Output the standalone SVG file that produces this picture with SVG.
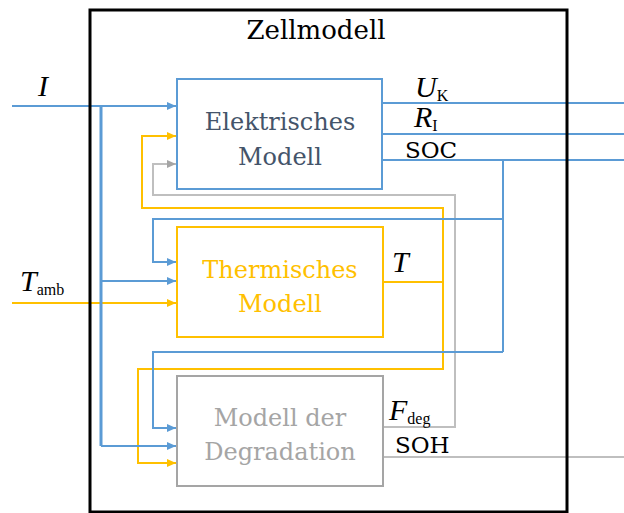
<svg xmlns="http://www.w3.org/2000/svg" width="624" height="513" viewBox="0 0 624 513">
<style>
.b{stroke:#5B9BD5;fill:none;stroke-width:2}
.y{stroke:#FFC000;fill:none;stroke-width:2}
.g{stroke:#BFBFBF;fill:none;stroke-width:2}
.lbl{font-family:"DejaVu Serif","Liberation Serif",serif;font-size:24px;text-anchor:middle}
.m{font-family:"Liberation Serif",serif;fill:#000}
.mi{font-style:italic;font-size:30px}
.sub{font-size:16px}
.t{font-family:"DejaVu Serif","Liberation Serif",serif;font-size:23px;fill:#000}
</style>
<defs>
<marker id="ab" markerUnits="userSpaceOnUse" markerWidth="9" markerHeight="8" refX="9" refY="4" orient="auto"><path d="M0,0 L9,4 L0,8 z" fill="#5B9BD5"/></marker>
<marker id="ay" markerUnits="userSpaceOnUse" markerWidth="9" markerHeight="8" refX="9" refY="4" orient="auto"><path d="M0,0 L9,4 L0,8 z" fill="#FFC000"/></marker>
<marker id="ag" markerUnits="userSpaceOnUse" markerWidth="9" markerHeight="8" refX="9" refY="4" orient="auto"><path d="M0,0 L9,4 L0,8 z" fill="#A5A5A5"/></marker>
</defs>
<rect width="624" height="513" fill="#fff"/>
<g id="connectors">
<path class="g" d="M383,427 H455 V195 H153 V164 H176" marker-end="url(#ag)"/>
<path class="g" d="M383,457 H624"/>
<path class="y" d="M12,303 H176" marker-end="url(#ay)"/>
<path class="y" d="M383,282 H443"/>
<path class="y" d="M443,282 V208 H142 V136 H176" marker-end="url(#ay)"/>
<path class="y" d="M443,282 V369 H138 V463 H176" marker-end="url(#ay)"/>
<path class="b" d="M12,106 H176" marker-end="url(#ab)"/>
<path class="b" d="M101,106 V446" style="stroke-width:3"/>
<path class="b" d="M101,281 H176" marker-end="url(#ab)"/>
<path class="b" d="M101,446 H176" marker-end="url(#ab)"/>
<path class="b" d="M382,103 H624"/>
<path class="b" d="M382,134 H624"/>
<path class="b" d="M382,160 H624"/>
<path class="b" d="M503,160 V352"/>
<path class="b" d="M503,219 H153 V262 H176" marker-end="url(#ab)"/>
<path class="b" d="M503,352 H153 V428 H176" marker-end="url(#ab)"/>
</g>
<g id="zellmodell">
<rect x="90" y="10" width="477" height="502" fill="none" stroke="#000" stroke-width="3"/>
<text x="316" y="39" class="lbl" style="fill:#000;font-size:26px">Zellmodell</text>
</g>
<g id="elektrisches">
<rect x="177" y="79" width="205" height="110" fill="none" stroke="#5B9BD5" stroke-width="2"/>
<text x="280" y="130" class="lbl" fill="#44546A">Elektrisches</text>
<text x="280" y="165" class="lbl" fill="#44546A">Modell</text>
</g>
<g id="thermisches">
<rect x="177" y="227" width="206" height="110" fill="none" stroke="#FFC000" stroke-width="2"/>
<text x="280" y="278" class="lbl" fill="#FFC000">Thermisches</text>
<text x="280" y="312" class="lbl" fill="#FFC000">Modell</text>
</g>
<g id="degradation">
<rect x="177" y="376" width="206" height="110" fill="none" stroke="#A5A5A5" stroke-width="2"/>
<text x="280" y="426" class="lbl" fill="#A5A5A5">Modell der</text>
<text x="280" y="460" class="lbl" fill="#A5A5A5">Degradation</text>
</g>
<g id="labels">
<text x="38" y="96" class="m mi">I</text>
<text x="20" y="291" class="m"><tspan class="mi">T</tspan><tspan class="sub" dy="4">amb</tspan></text>
<text x="415" y="97" class="m"><tspan class="mi">U</tspan><tspan class="sub" dy="4">K</tspan></text>
<text x="414" y="127" class="m"><tspan class="mi">R</tspan><tspan class="sub" dy="4">I</tspan></text>
<text x="405" y="158" class="t">SOC</text>
<text x="392" y="272" class="m mi">T</text>
<text x="389" y="420" class="m"><tspan class="mi">F</tspan><tspan class="sub" dy="4">deg</tspan></text>
<text x="395" y="453" class="t">SOH</text>
</g>
</svg>
